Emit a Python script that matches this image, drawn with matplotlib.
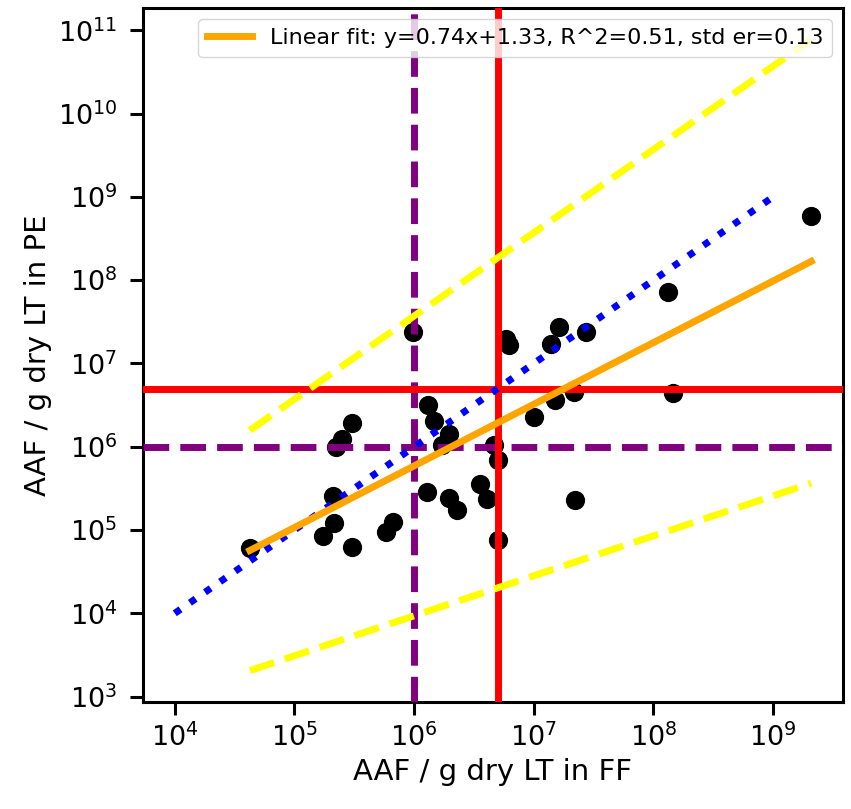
import numpy as np
import matplotlib
matplotlib.use('Agg')
import matplotlib.pyplot as plt

# log10 of AAF per g dry LT
log_ff = [4.627, 5.480, 5.396, 5.346, 5.321, 5.329, 5.237, 5.480, 5.823, 5.764,
          5.990, 6.115, 6.166, 6.291, 6.232, 6.667, 6.701, 6.107, 6.291, 6.358,
          6.550, 6.609, 6.701, 6.768, 6.793, 7.211, 7.144, 7.436, 7.177, 7.336,
          7.002, 7.344, 8.122, 9.318, 8.164]
log_pe = [4.784, 6.281, 6.090, 5.994, 5.407, 5.084, 4.928, 4.796, 5.096, 4.976,
          7.383, 6.497, 6.305, 6.150, 6.018, 6.018, 5.838, 5.455, 5.383, 5.240,
          5.551, 5.371, 4.880, 7.299, 7.216, 7.443, 7.228, 7.383, 6.557, 6.653,
          6.353, 5.359, 7.862, 8.772, 6.641]

# fit parameters (log-log), from the legend
slope = 0.74
intercept = 1.33
r2 = 0.51
std_err = 0.13
band_slope = 2 * std_err
band_intercept = 0.24

# thresholds
thr_low = 1e6
thr_high = 5e6
one_to_one = [1e4, 1e9]

ff = 10 ** np.array(log_ff)
pe = 10 ** np.array(log_pe)

fig = plt.figure(figsize=(8.51, 8.09), dpi=100)
ax = fig.add_axes([0.168, 0.132, 0.8226, 0.858])

ax.scatter(ff, pe, s=165, color='black', zorder=2)

ax.axvline(thr_low, color='purple', linestyle='--', lw=5, zorder=3)
ax.axhline(thr_low, color='purple', linestyle='--', lw=5, zorder=3)
ax.axvline(thr_high, color='red', lw=5, zorder=3)
ax.axhline(thr_high, color='red', lw=5, zorder=3)

ax.plot(one_to_one, one_to_one, color='blue', linestyle=':', lw=5, zorder=4)

xs = np.linspace(min(log_ff), max(log_ff), 50)
up = (slope + band_slope) * xs + (intercept + band_intercept)
lo = (slope - band_slope) * xs + (intercept - band_intercept)
ax.plot(10 ** xs, 10 ** up, color='yellow', linestyle='--', lw=5, zorder=4)
ax.plot(10 ** xs, 10 ** lo, color='yellow', linestyle='--', lw=5, zorder=4)

fit = slope * xs + intercept
ax.plot(10 ** xs, 10 ** fit, color='orange', lw=5, zorder=5,
        label=f'Linear fit: y={slope:.2f}x+{intercept:.2f}, R^2={r2:.2f}, std er={std_err:.2f}')

ax.set_xscale('log')
ax.set_yscale('log')
ax.minorticks_off()
ax.tick_params(labelsize=19.5, width=2.2, length=9.5)
ax.tick_params(axis='y', pad=9)
ax.tick_params(axis='x', pad=6)
for sp in ax.spines.values():
    sp.set_linewidth(2.2)

ax.set_xlabel('AAF / g dry LT in FF', fontsize=21)
ax.set_ylabel('AAF / g dry LT in PE', fontsize=21)
ax.legend(loc='upper right', fontsize=16, handlelength=2)

fig.savefig('out.png', dpi=100)
